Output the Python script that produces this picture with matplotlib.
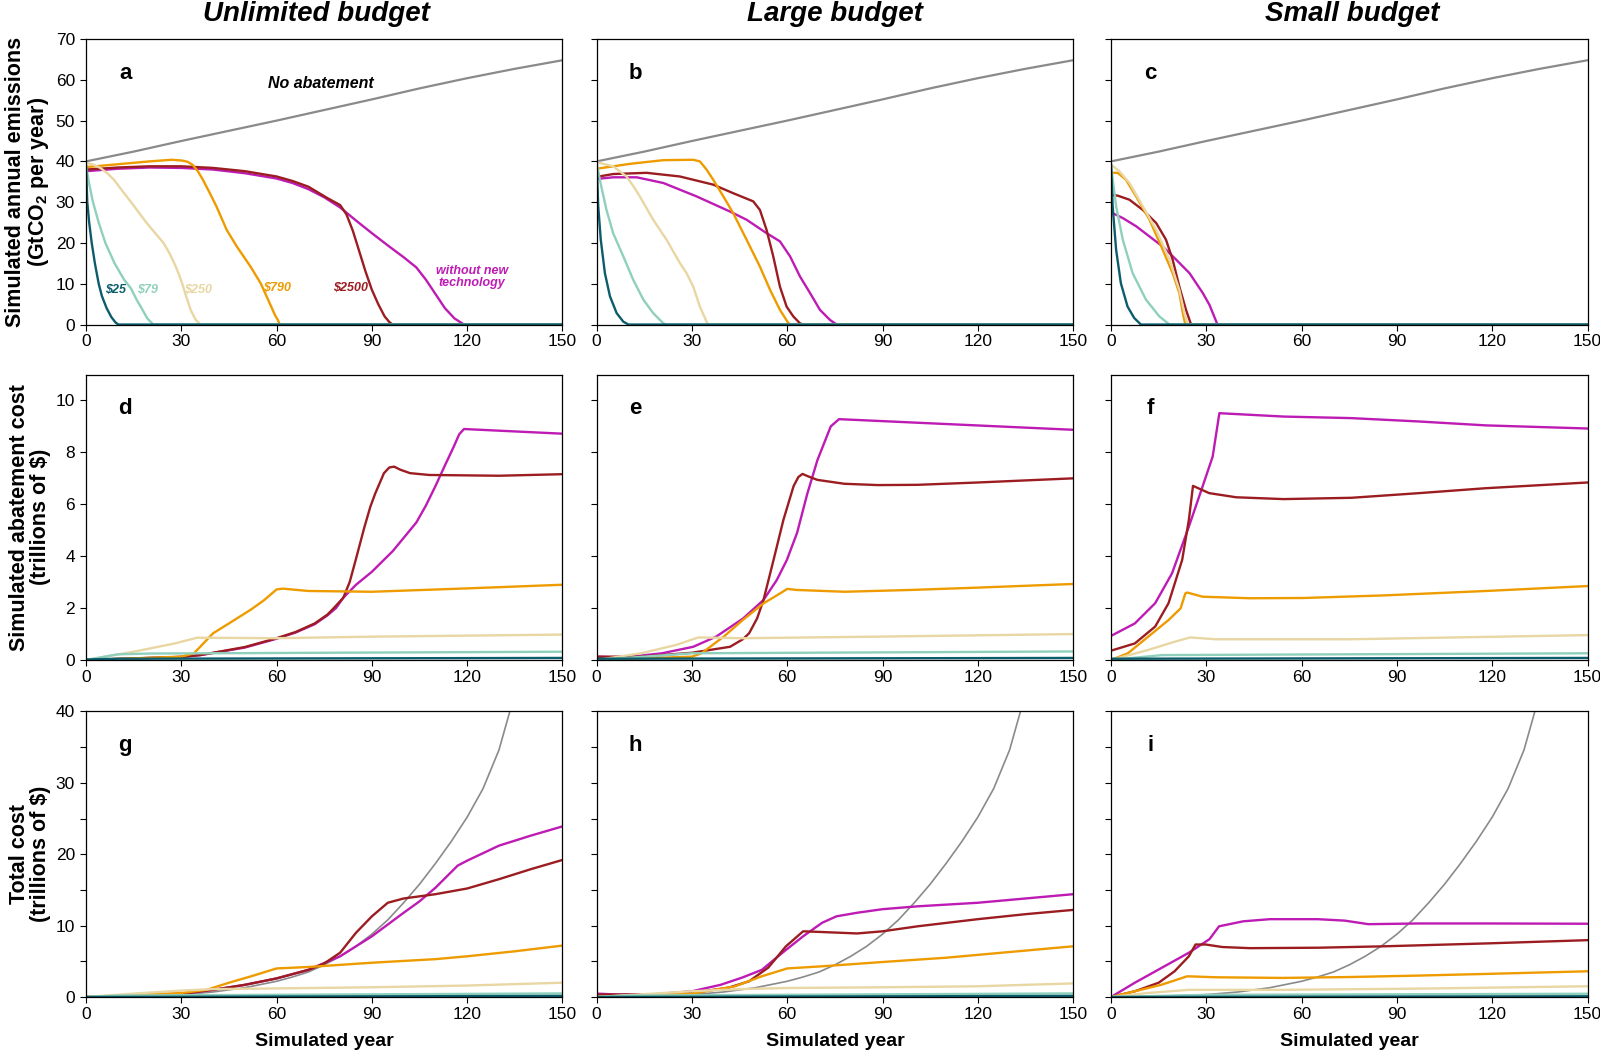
import matplotlib
matplotlib.use("Agg")
import matplotlib.pyplot as plt
from matplotlib.ticker import MultipleLocator

plt.rcParams['font.family'] = ['Liberation Sans', 'DejaVu Sans']
plt.rcParams['mathtext.fontset'] = 'custom'
plt.rcParams['mathtext.rm'] = 'Liberation Sans'
plt.rcParams['mathtext.bf'] = 'Liberation Sans:bold'

# scenario names and colours
scenarios = ["$25", "$79", "$250", "$790", "$2500", "without new\ntechnology"]
colors = ["#0b5d6c", "#8fd0bc", "#e8d6a3", "#ee9b00", "#9b1d21", "#bd1bb3"]
gray = "#8a8a8a"
budgets = ["Unlimited budget", "Large budget", "Small budget"]

# ---- annual emissions (GtCO2 / yr), pairs of (year, value) ----
em_none = [(0, 40), (15, 42.4), (30, 45), (45, 47.5), (60, 50), (75, 52.6), (90, 55.2), (105, 57.9), (120, 60.4), (135, 62.7), (150, 64.8)]

em_unl_25 = [(0, 39), (0.4, 30), (1, 25), (1.8, 20), (2.8, 15), (4, 10), (5, 7), (6.5, 4), (8, 1.8), (9.3, 0.5), (10.2, 0), (150, 0)]
em_unl_79 = [(0, 39), (1, 34.5), (2.2, 30), (4, 25), (6.1, 20), (9, 15), (12, 11), (14.2, 8.8), (16, 6), (17.5, 4), (19.3, 1.5), (21.2, 0), (150, 0)]
em_unl_250 = [(0, 39.6), (2, 39.3), (4.5, 38.4), (6.7, 37.1), (8.8, 35.5), (12, 32.2), (14.2, 30), (16.6, 27.5), (19, 25), (21.7, 22.5), (24.4, 20), (26.4, 17.3), (28.1, 14.5), (29.4, 12), (30.3, 10), (31.5, 7), (33, 3.5), (34.5, 1.2), (36, 0), (150, 0)]
em_unl_790 = [(0, 38.6), (10, 39.3), (20, 40), (27, 40.4), (30.3, 40.2), (32, 39.9), (33.5, 39.2), (35.2, 37.6), (36.8, 35.5), (39, 32.2), (41.1, 28.9), (44.3, 23.2), (47.5, 19.1), (51.8, 14.2), (55, 10.1), (56.8, 7), (58.3, 4.4), (59.5, 2.3), (60.4, 1.1), (61, 0), (150, 0)]
em_unl_2500 = [(0, 38), (10, 38.5), (20, 38.8), (30, 38.8), (40, 38.4), (50, 37.6), (60, 36.3), (65, 35.2), (70, 33.8), (76, 31), (80, 29.3), (82, 27), (84, 23), (86, 18), (88, 13), (90, 8.5), (92, 5), (94, 2), (95.5, 0.6), (96.5, 0), (150, 0)]
em_unl_notech = [(0, 37.6), (10, 38.2), (20, 38.5), (30, 38.4), (40, 38), (50, 37.1), (60, 35.8), (65, 34.7), (70, 33.2), (75, 31.2), (80, 28.7), (85, 25.5), (90, 22.4), (95, 19.4), (100, 16.5), (104, 14), (107, 11), (110, 7.5), (113, 4), (116, 1.5), (119, 0), (150, 0)]

em_lrg_25 = [(0, 39.6), (0.5, 29), (1.3, 20.8), (2.6, 12.6), (4.2, 6.9), (6.3, 2.8), (8.4, 0.7), (10, 0), (150, 0)]
em_lrg_79 = [(0, 39.8), (1, 35.5), (3.1, 28.1), (5.2, 22.4), (8.4, 16.7), (11.5, 11), (14.7, 6.1), (17.8, 2.8), (21, 0.3), (22, 0), (150, 0)]
em_lrg_250 = [(0, 39.8), (5.2, 38.8), (9.4, 36.3), (11.5, 34), (13.6, 31.4), (17.8, 25.7), (22, 20.8), (26.2, 15.1), (28.3, 12.6), (30.4, 9.3), (32.5, 4.4), (34.6, 0.7), (35.2, 0), (150, 0)]
em_lrg_790 = [(0, 38.2), (10.5, 39.4), (21, 40.3), (30.4, 40.4), (32.5, 40), (34.6, 38), (36.7, 35.5), (39.9, 31.4), (43, 27.3), (47.2, 20.8), (51.4, 14.2), (54.6, 8.5), (57.7, 3.6), (60.4, 0.3), (61, 0), (150, 0)]
em_lrg_2500 = [(0, 36.2), (5.2, 36.9), (15.7, 37.2), (26.2, 36.3), (36.7, 34.3), (43, 32.2), (49.3, 30.2), (51.4, 28.1), (53.5, 23.2), (55.6, 16.7), (57.7, 9.3), (59.8, 4.4), (61.9, 2), (64, 0.3), (65, 0), (150, 0)]
em_lrg_notech = [(0, 35.7), (5.2, 36.1), (12.6, 36.1), (21, 34.7), (31.5, 31.4), (42, 27.7), (47.2, 25.7), (53.5, 22.4), (57.7, 20.4), (60.9, 16.7), (64, 11.8), (67.2, 7.7), (70.3, 3.6), (73.5, 1.1), (75.6, 0), (150, 0)]

em_sml_25 = [(0, 39.2), (0.5, 29), (1.6, 18.3), (3.1, 10.1), (5.2, 4.4), (7.3, 1.6), (9.4, 0), (150, 0)]
em_sml_79 = [(0, 38.8), (1.6, 29), (3.7, 20.8), (6.8, 12.6), (11, 6.1), (15.2, 2), (18.4, 0), (150, 0)]
em_sml_250 = [(0, 39.2), (2.6, 37.6), (5.8, 34.7), (10, 29), (14.2, 23.2), (18.4, 15.9), (21.5, 8.5), (23.1, 2.8), (24.1, 0), (150, 0)]
em_sml_790 = [(0, 37.2), (2.1, 37.2), (4.7, 35.5), (7.9, 31.4), (12.1, 25.7), (16.3, 18.3), (19.4, 12.6), (21.5, 7.7), (22.6, 2.8), (23.4, 0), (150, 0)]
em_sml_2500 = [(0, 31.8), (2.1, 31.6), (5.8, 30.6), (10, 28.1), (14.2, 24.9), (17.3, 20.8), (19.4, 15.9), (21.5, 9.3), (23.6, 3.6), (25.2, 0), (150, 0)]
em_sml_notech = [(0, 27.5), (3.7, 26.1), (7.9, 24.1), (12.1, 21.6), (16.3, 19.1), (20.5, 15.9), (24.7, 12.6), (28.9, 7.7), (31, 4.8), (33.5, 0), (150, 0)]

# ---- abatement cost (trillions of $) ----
ac_unl_25 = [(0, 0.02), (10, 0.05), (150, 0.08)]
ac_unl_79 = [(0, 0), (10, 0.22), (20, 0.25), (150, 0.32)]
ac_unl_250 = [(0, 0), (15, 0.32), (28, 0.64), (35, 0.86), (60, 0.84), (90, 0.9), (120, 0.94), (150, 0.98)]
ac_unl_790 = [(0, 0), (30, 0.13), (34, 0.26), (40, 1.03), (45, 1.41), (52, 1.95), (56, 2.3), (60, 2.72), (62, 2.75), (70, 2.66), (90, 2.63), (120, 2.76), (150, 2.9)]
ac_unl_2500 = [(0, 0), (20, 0.08), (30, 0.12), (36, 0.19), (50, 0.5), (60, 0.84), (66, 1.08), (72, 1.41), (76, 1.75), (78, 2.0), (81, 2.4), (83, 3.0), (85, 3.9), (87.6, 5.1), (89.5, 5.9), (91, 6.4), (93.8, 7.2), (95.5, 7.42), (97, 7.45), (99, 7.33), (102, 7.2), (108, 7.13), (130, 7.1), (150, 7.16)]
ac_unl_notech = [(0, 0), (20, 0.08), (30, 0.12), (36, 0.19), (50, 0.48), (60, 0.82), (66, 1.06), (72, 1.38), (76, 1.72), (78.7, 2.0), (81, 2.4), (85, 2.9), (90, 3.4), (96.6, 4.2), (104, 5.3), (107, 5.95), (110, 6.7), (113, 7.5), (115.7, 8.2), (117.5, 8.7), (119, 8.9), (150, 8.72)]

ac_lrg_25 = [(0, 0.05), (150, 0.08)]
ac_lrg_79 = [(0, 0), (30, 0.26), (150, 0.33)]
ac_lrg_250 = [(0, 0), (14, 0.26), (25, 0.58), (32, 0.87), (46, 0.84), (88, 0.9), (150, 1.0)]
ac_lrg_790 = [(0, 0), (30, 0.13), (33, 0.26), (40, 0.9), (46, 1.54), (52.5, 2.18), (57.8, 2.57), (60, 2.74), (63, 2.7), (78, 2.63), (99, 2.7), (120, 2.79), (150, 2.93)]
ac_lrg_2500 = [(0, 0.13), (14, 0.13), (30, 0.28), (42, 0.51), (46, 0.8), (48, 1.03), (50.5, 1.6), (52.5, 2.3), (55.7, 3.86), (58.8, 5.4), (62, 6.7), (63.5, 7.05), (64.8, 7.17), (66.5, 7.08), (69.5, 6.94), (78, 6.79), (88.6, 6.74), (101, 6.75), (120, 6.84), (150, 7.0)]
ac_lrg_notech = [(0, 0.13), (7.9, 0.09), (20.6, 0.26), (30.4, 0.51), (37.6, 0.9), (46.1, 1.6), (52.5, 2.31), (56.7, 3.08), (59.9, 3.86), (63.1, 4.9), (66.3, 6.4), (69.5, 7.7), (73.7, 9.0), (76.3, 9.28), (150, 8.87)]

ac_sml_25 = [(0, 0.05), (150, 0.08)]
ac_sml_79 = [(0, 0), (16, 0.19), (150, 0.26)]
ac_sml_250 = [(0, 0), (11.7, 0.39), (20.2, 0.71), (24.9, 0.87), (33, 0.8), (75.6, 0.8), (150, 0.96)]
ac_sml_790 = [(0, 0), (5.3, 0.26), (11.7, 0.9), (18.1, 1.54), (21.9, 1.99), (23.4, 2.57), (24, 2.6), (28.8, 2.44), (43.7, 2.38), (60.7, 2.39), (86, 2.49), (118, 2.66), (150, 2.85)]
ac_sml_2500 = [(0, 0.36), (7.5, 0.64), (13.9, 1.29), (18.1, 2.19), (22.4, 3.86), (24.5, 5.4), (25.8, 6.71), (30.9, 6.43), (39.4, 6.27), (54.3, 6.2), (75.6, 6.25), (97, 6.43), (118, 6.62), (150, 6.84)]
ac_sml_notech = [(0, 0.93), (7.5, 1.41), (13.9, 2.19), (19.2, 3.34), (24.5, 5.14), (28.8, 6.68), (32, 7.84), (34.1, 9.51), (54.3, 9.38), (75.6, 9.32), (97, 9.19), (118, 9.04), (150, 8.92)]

# ---- total cost (trillions of $) ----
tc_none = [(0, 0), (15, 0.1), (30, 0.33), (40, 0.7), (50, 1.3), (60, 2.2), (65, 2.8), (70, 3.5), (75, 4.5), (80, 5.7), (85, 7.1), (90, 8.8), (95, 10.8), (100, 13.2), (105, 15.8), (110, 18.7), (115, 21.8), (120, 25.2), (125, 29.2), (130, 34.6), (135, 42.5)]

tc_unl_25 = [(0, 0), (150, 0.15)]
tc_unl_79 = [(0, 0), (10, 0.2), (150, 0.5)]
tc_unl_250 = [(0, 0), (15, 0.47), (30, 0.9), (40, 1.1), (60, 1.2), (90, 1.36), (120, 1.6), (150, 2.0)]
tc_unl_790 = [(0, 0), (30, 0.56), (38, 1.0), (45, 2.0), (52, 2.9), (60, 4.0), (70, 4.2), (90, 4.8), (110, 5.3), (120, 5.7), (135, 6.4), (150, 7.2)]
tc_unl_2500 = [(0, 0), (30, 0.45), (40, 1.0), (50, 1.7), (60, 2.6), (70, 3.8), (75, 4.7), (80, 6.2), (85, 9), (90, 11.3), (95, 13.2), (100, 13.8), (110, 14.4), (120, 15.2), (130, 16.5), (140, 17.9), (150, 19.2)]
tc_unl_notech = [(0, 0), (30, 0.45), (40, 1.0), (50, 1.7), (60, 2.6), (70, 3.8), (80, 5.7), (90, 8.5), (100, 11.8), (105, 13.4), (110, 15.3), (117, 18.4), (120, 19.1), (130, 21.2), (140, 22.6), (150, 23.9)]

tc_lrg_25 = [(0, 0), (150, 0.15)]
tc_lrg_79 = [(0, 0), (10, 0.2), (150, 0.5)]
tc_lrg_250 = [(0, 0), (30, 0.8), (45, 1.1), (60, 1.26), (90, 1.36), (120, 1.5), (150, 1.9)]
tc_lrg_790 = [(0, 0), (30, 0.47), (43.6, 1.5), (52, 2.9), (60, 4.0), (71, 4.3), (90, 4.9), (110, 5.5), (120, 5.9), (135, 6.5), (150, 7.1)]
tc_lrg_2500 = [(0, 0.33), (18, 0.37), (30, 0.56), (41.5, 1.3), (48, 2.2), (54, 4.1), (59.6, 7.1), (65, 9.2), (71, 9.1), (82, 8.9), (90, 9.2), (101, 9.9), (120, 10.9), (135, 11.6), (150, 12.2)]
tc_lrg_notech = [(0, 0.47), (7.4, 0.33), (18, 0.37), (30, 0.8), (39, 1.7), (45.7, 2.7), (52, 3.8), (58.5, 6.2), (65, 8.5), (71, 10.4), (75.5, 11.3), (82, 11.8), (90, 12.3), (101, 12.7), (120, 13.2), (135, 13.8), (150, 14.4)]

tc_sml_25 = [(0, 0), (150, 0.1)]
tc_sml_79 = [(0, 0), (30, 0.3), (150, 0.45)]
tc_sml_250 = [(0, 0), (11.7, 0.56), (24.5, 1.0), (54, 1.0), (97, 1.17), (150, 1.5)]
tc_sml_790 = [(0, 0), (7.5, 0.8), (16, 1.73), (22.4, 2.67), (24, 2.9), (33, 2.76), (54, 2.67), (75.6, 2.8), (97, 3.0), (118, 3.23), (150, 3.6)]
tc_sml_2500 = [(0, 0), (7.5, 0.8), (15, 2.0), (20, 3.6), (24.5, 5.7), (26.6, 7.35), (29.8, 7.35), (35, 7.0), (43.7, 6.84), (65, 6.9), (86, 7.1), (118, 7.5), (150, 7.96)]
tc_sml_notech = [(0, 0), (7.5, 2.0), (16, 4.1), (24.5, 6.2), (31, 8.1), (34, 9.9), (41.6, 10.6), (50, 10.9), (65, 10.9), (73.5, 10.7), (81, 10.2), (97, 10.3), (118, 10.3), (150, 10.26)]

rows = [
    [(em_none, [em_unl_25, em_unl_79, em_unl_250, em_unl_790, em_unl_2500, em_unl_notech]),
     (em_none, [em_lrg_25, em_lrg_79, em_lrg_250, em_lrg_790, em_lrg_2500, em_lrg_notech]),
     (em_none, [em_sml_25, em_sml_79, em_sml_250, em_sml_790, em_sml_2500, em_sml_notech])],
    [(None, [ac_unl_25, ac_unl_79, ac_unl_250, ac_unl_790, ac_unl_2500, ac_unl_notech]),
     (None, [ac_lrg_25, ac_lrg_79, ac_lrg_250, ac_lrg_790, ac_lrg_2500, ac_lrg_notech]),
     (None, [ac_sml_25, ac_sml_79, ac_sml_250, ac_sml_790, ac_sml_2500, ac_sml_notech])],
    [(tc_none, [tc_unl_25, tc_unl_79, tc_unl_250, tc_unl_790, tc_unl_2500, tc_unl_notech]),
     (tc_none, [tc_lrg_25, tc_lrg_79, tc_lrg_250, tc_lrg_790, tc_lrg_2500, tc_lrg_notech]),
     (tc_none, [tc_sml_25, tc_sml_79, tc_sml_250, tc_sml_790, tc_sml_2500, tc_sml_notech])],
]
ylims = [70, 11, 40]
ysteps = [10, 2, 5]
ylabels = ["Simulated annual emissions\n(GtCO$_\\mathbf{2}$ per year)",
           "Simulated abatement cost\n(trillions of $)",
           "Total cost\n(trillions of $)"]
letters = "abcdefghi"


def draw(ax, pts, color, lw):
    ax.plot([p[0] for p in pts], [p[1] for p in pts], color=color, lw=lw,
            solid_joinstyle="round")


fig = plt.figure(figsize=(16, 10.52), dpi=100)
lefts = [0.05375, 0.3729, 0.6944]
bottoms = [0.6915, 0.3726, 0.0523]
w, h = 0.2978, 0.2714

for r in range(3):
    for c in range(3):
        ax = fig.add_axes([lefts[c], bottoms[r], w, h])
        none, series = rows[r][c]
        if none is not None:
            draw(ax, none, gray, 1.6 if r == 0 else 1.2)
        # no-tech first, cheapest tax last (drawn on top)
        for s, col in list(zip(series, colors))[::-1]:
            draw(ax, s, col, 1.7)
        ax.set_xlim(0, 150)
        ax.set_ylim(0, ylims[r])
        ax.xaxis.set_major_locator(MultipleLocator(30))
        ax.yaxis.set_major_locator(MultipleLocator(ysteps[r]))
        if r == 2:
            ax.set_yticks([0, 10, 20, 30, 40])
            ax.yaxis.set_minor_locator(MultipleLocator(5))
            ax.tick_params(axis="y", which="minor", direction="out", length=4, width=0.8)
        ax.tick_params(axis="both", which="major", direction="out", length=4, width=0.8,
                       labelsize=12.5)
        ax.tick_params(axis="x", pad=3)
        ax.tick_params(axis="y", pad=4)
        for sp in ax.spines.values():
            sp.set_linewidth(0.9)
        if c > 0:
            ax.set_yticklabels([])
        else:
            ax.set_ylabel(ylabels[r], fontsize=15.5, fontweight="bold", linespacing=1.0,
                          labelpad=3)
        if r == 2:
            ax.set_xlabel("Simulated year", fontsize=14, fontweight="bold", labelpad=8)
        ax.text(0.082, 0.86, letters[r * 3 + c], transform=ax.transAxes, fontsize=16,
                fontweight="bold", ha="center", va="baseline")
        if r == 0 and c == 0:
            ax.text(74, 59.2, "No abatement", fontsize=11.5, fontweight="bold",
                    style="italic", ha="center", va="center")
            label_pos = [(9.3, 8.6), (19.3, 8.6), (35.3, 8.6), (60.1, 8.9), (83.4, 8.9), (121.4, 11.7)]
            for name, col, (lx, ly) in zip(scenarios, colors, label_pos):
                ax.text(lx, ly, name, color=col, fontsize=9, fontweight="bold",
                        style="italic", ha="center", va="center", linespacing=0.95)

title_x = [0.198, lefts[1] + w / 2, lefts[2] + w / 2 + 0.002]
for c in range(3):
    fig.text(title_x[c], 0.9867, budgets[c], fontsize=20, fontweight="bold",
             style="italic", ha="center", va="center")

fig.savefig("out.png", dpi=100)
